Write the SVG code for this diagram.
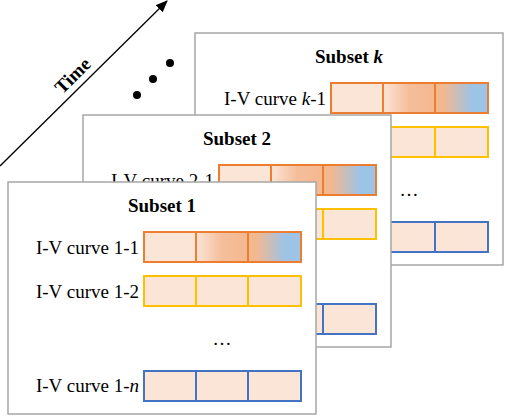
<svg xmlns="http://www.w3.org/2000/svg" width="505" height="417" viewBox="0 0 505 417" font-family="'Liberation Serif', 'Times New Roman', serif">
<style>
.frame{fill:#fff;stroke:#A6A6A6;stroke-width:1.5}
text{font-family:'Liberation Serif','Times New Roman',serif;font-size:19px;fill:#000}
.title{font-weight:bold;text-anchor:middle}
.lab{text-anchor:end}
.dots{text-anchor:middle}
.c0{fill:#FBE5D6}
.c1{fill:url(#g1)}
.c2{fill:url(#g2)}
.bo{fill:none;stroke:#ED7D31;stroke-width:2}
.by{fill:none;stroke:#FFC000;stroke-width:2}
.bb{fill:none;stroke:#4472C4;stroke-width:2}
</style>
<defs>
<linearGradient id="g1" x1="0" y1="0" x2="1" y2="0">
<stop offset="0" stop-color="#FBE5D6"/>
<stop offset="0.5" stop-color="#F5BE9B"/>
<stop offset="1" stop-color="#F4B88F"/>
</linearGradient>
<linearGradient id="g2" x1="0" y1="0" x2="1" y2="0">
<stop offset="0" stop-color="#F4B88F"/>
<stop offset="0.15" stop-color="#F4B88F"/>
<stop offset="0.7" stop-color="#9DC3E6"/>
<stop offset="1" stop-color="#9DC3E6"/>
</linearGradient>
<marker id="arr" markerWidth="12" markerHeight="10" refX="11" refY="5" orient="auto" markerUnits="userSpaceOnUse">
<path d="M0,0 L12,5 L0,10 z" fill="#000"/>
</marker>
<g id="rowO">
<rect class="c0" x="0" y="0" width="52" height="30"/>
<rect class="c1" x="52" y="0" width="52" height="30"/>
<rect class="c2" x="104" y="0" width="53" height="30"/>
<rect class="bo" x="0" y="0" width="157" height="30"/>
<line x1="52" y1="0" x2="52" y2="30" stroke="#ED7D31" stroke-width="2"/>
<line x1="104" y1="0" x2="104" y2="30" stroke="#ED7D31" stroke-width="2"/>
</g>
<g id="rowY">
<rect class="c0" x="0" y="0" width="157" height="30"/>
<rect class="by" x="0" y="0" width="157" height="30"/>
<line x1="52" y1="0" x2="52" y2="30" stroke="#FFC000" stroke-width="2"/>
<line x1="104" y1="0" x2="104" y2="30" stroke="#FFC000" stroke-width="2"/>
</g>
<g id="rowB">
<rect class="c0" x="0" y="0" width="157" height="30"/>
<rect class="bb" x="0" y="0" width="157" height="30"/>
<line x1="52" y1="0" x2="52" y2="30" stroke="#4472C4" stroke-width="2"/>
<line x1="104" y1="0" x2="104" y2="30" stroke="#4472C4" stroke-width="2"/>
</g>
</defs>
<g id="connectors">
<line x1="0" y1="166" x2="167" y2="1" stroke="#000" stroke-width="1.3" marker-end="url(#arr)"/>
<text x="74" y="77" class="title" font-size="20px" transform="rotate(-44.7 74 77)" dominant-baseline="middle">Time</text>
<circle cx="137" cy="95" r="4" fill="#000"/>
<circle cx="153" cy="79" r="4" fill="#000"/>
<circle cx="170" cy="63" r="4" fill="#000"/>
</g>
<g id="subset-k">
<rect class="frame" x="195" y="33" width="308" height="232"/>
<text class="title" x="349" y="63">Subset <tspan font-style="italic">k</tspan></text>
<text class="lab" x="326" y="105">I-V curve <tspan font-style="italic">k</tspan>-1</text>
<use href="#rowO" x="331" y="83"/>
<use href="#rowY" x="331" y="127"/>
<text class="dots" x="409" y="196">…</text>
<use href="#rowB" x="331" y="222"/>
</g>
<g id="subset-2">
<rect class="frame" x="83" y="115" width="308" height="232"/>
<text class="title" x="237" y="145">Subset 2</text>
<text class="lab" x="214" y="187">I-V curve 2-1</text>
<use href="#rowO" x="219" y="165"/>
<use href="#rowY" x="219" y="209"/>
<use href="#rowB" x="219" y="304"/>
</g>
<g id="subset-1">
<rect class="frame" x="8" y="182" width="308" height="232"/>
<text class="title" x="162" y="212">Subset 1</text>
<text class="lab" x="139" y="254">I-V curve 1-1</text>
<use href="#rowO" x="144" y="232"/>
<text class="lab" x="139" y="298">I-V curve 1-2</text>
<use href="#rowY" x="144" y="276"/>
<text class="dots" x="222" y="345">…</text>
<text class="lab" x="139" y="392">I-V curve 1-<tspan font-style="italic">n</tspan></text>
<use href="#rowB" x="144" y="371"/>
</g>
</svg>
